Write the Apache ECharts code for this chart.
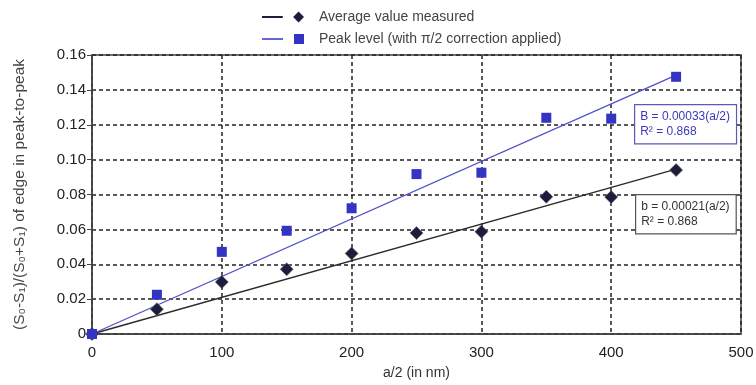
<!DOCTYPE html>
<html>
<head>
<meta charset="utf-8">
<script src="https://cdn.jsdelivr.net/npm/echarts@6/dist/echarts.min.js"></script>
<style>
  html, body { margin: 0; padding: 0; background: #fff; }
  #main { width: 756px; height: 385px; }
</style>
</head>
<body>
<div id="main"></div>
<script>
// a/2 in nm
const halfA = [0, 50, 100, 150, 200, 250, 300, 350, 400, 450];
const averageValue = [0, 0.0142, 0.0298, 0.0371, 0.0462, 0.0579, 0.0587, 0.0787, 0.0785, 0.094];
const peakLevel = [0, 0.0225, 0.0471, 0.0592, 0.0721, 0.0917, 0.0925, 0.124, 0.1235, 0.1475];

// fitted lines (end points of the straight fits)
const averageFit = [[0, 0], [450, 0.0945]];
const peakFit = [[0, 0], [450, 0.1485]];

const xTicks = [0, 100, 200, 300, 400, 500];
const yTicks = [0, 0.02, 0.04, 0.06, 0.08, 0.10, 0.12, 0.14, 0.16];

const FONT = "'Liberation Sans', Arial, sans-serif";
const navy = "#1c1c3c";
const blue = "#3434c4";

const pairs = (xs, ys) => xs.map((x, i) => [x, ys[i]]);

// legend icons: short line + marker
const diamondIcon = "path://M0,5.1L21,5.1L21,6.9L0,6.9Z M37,0.5L42.5,6L37,11.5L31.5,6Z";
const squareIcon = "path://M0,5.3L21,5.3L21,6.7L0,6.7Z M32,1L42,1L42,11L32,11Z";

const chart = echarts.init(document.getElementById("main"));

const option = {
  backgroundColor: "#fff",
  animation: false,
  textStyle: { fontFamily: FONT },
  legend: {
    orient: "vertical",
    left: 257,
    top: 5,
    itemWidth: 42,
    itemHeight: 12,
    itemGap: 8,
    itemStyle: { borderWidth: 0 },
    textStyle: { fontFamily: FONT, fontSize: 14, color: "#444", padding: [0, 0, 0, 10] },
    data: [
      { name: "Average value measured", icon: diamondIcon },
      { name: "Peak level (with \u03c0/2 correction applied)", icon: squareIcon },
    ],
  },
  grid: {
    left: 92,
    right: 15,
    top: 55,
    bottom: 51,
    outerBoundsMode: "none",
    show: true,
    borderColor: "#444",
    borderWidth: 1.5,
  },
  xAxis: {
    type: "value",
    min: xTicks[0],
    max: xTicks[xTicks.length - 1],
    interval: 100,
    name: "a/2 (in nm)",
    nameLocation: "middle",
    nameGap: 32,
    nameTextStyle: { fontFamily: FONT, fontSize: 14, color: "#333" },
    axisLine: { show: true, lineStyle: { color: "#444", width: 1.5 } },
    axisTick: { show: false },
    axisLabel: { fontFamily: FONT, fontSize: 15, color: "#222", margin: 11 },
    splitLine: {
      show: true,
      lineStyle: { color: "#222", width: 1.5, type: [4, 3] },
    },
  },
  yAxis: {
    type: "value",
    min: yTicks[0],
    max: yTicks[yTicks.length - 1],
    interval: 0.02,
    name: "(S\u2080-S\u2081)/(S\u2080+S\u2081) of edge in peak-to-peak",
    nameLocation: "middle",
    nameGap: 64,
    nameTextStyle: { fontFamily: FONT, fontSize: 15.5, color: "#444" },
    axisLine: { show: true, lineStyle: { color: "#444", width: 1.5 } },
    axisTick: { show: true, inside: false, length: 5, lineStyle: { color: "#444" } },
    axisLabel: {
      fontFamily: FONT,
      fontSize: 15,
      color: "#222",
      margin: 6,
      formatter: (v) => (v === 0 ? "0" : v.toFixed(2)),
    },
    splitLine: {
      show: true,
      lineStyle: { color: "#222", width: 1.5, type: [4, 3] },
    },
  },
  series: [
    {
      name: "Average value fit",
      type: "line",
      data: averageFit,
      showSymbol: false,
      silent: true,
      lineStyle: { color: "#2a2a2a", width: 1.3 },
      z: 2,
    },
    {
      name: "Peak level fit",
      type: "line",
      data: peakFit,
      showSymbol: false,
      silent: true,
      lineStyle: { color: "#5252c8", width: 1.3 },
      z: 2,
    },
    {
      name: "Average value measured",
      type: "scatter",
      data: pairs(halfA, averageValue),
      symbol: "diamond",
      symbolSize: 13,
      itemStyle: { color: navy, borderColor: "#666", borderWidth: 0.6, opacity: 1 },
      z: 3,
    },
    {
      name: "Peak level (with \u03c0/2 correction applied)",
      type: "scatter",
      data: pairs(halfA, peakLevel),
      symbol: "rect",
      symbolSize: 10,
      itemStyle: { color: blue, opacity: 1 },
      z: 4,
    },
  ],
  graphic: [
    {
      type: "text",
      left: 634,
      top: 104,
      z: 10,
      style: {
        text: "B = 0.00033(a/2)\nR\u00b2 = 0.868",
        font: "12px " + FONT,
        fill: "#3a3ab8",
        lineHeight: 15,
        backgroundColor: "#fff",
        borderColor: "#5a5ab8",
        borderWidth: 1.2,
        padding: [4, 6, 4, 5],
      },
    },
    {
      type: "text",
      left: 635,
      top: 194,
      z: 10,
      style: {
        text: "b = 0.00021(a/2)\nR\u00b2 = 0.868",
        font: "12px " + FONT,
        fill: "#333",
        lineHeight: 15,
        backgroundColor: "#fff",
        borderColor: "#555",
        borderWidth: 1.2,
        padding: [4, 6, 4, 5],
      },
    },
  ],
};

chart.setOption(option);
</script>
</body>
</html>
